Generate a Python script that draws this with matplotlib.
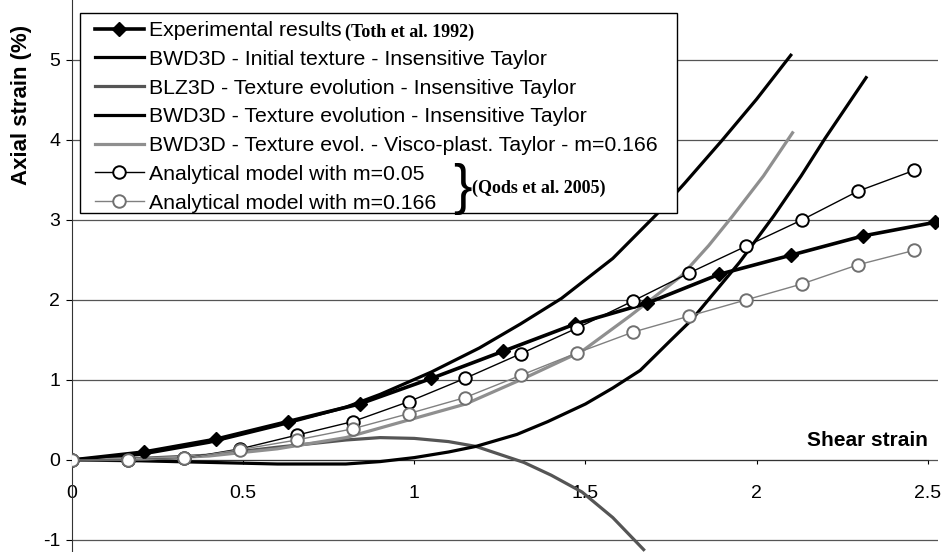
import numpy as np
import matplotlib
matplotlib.use("Agg")
import matplotlib.pyplot as plt
from matplotlib.patches import Rectangle

plt.rcParams['font.family'] = ['Liberation Sans', 'DejaVu Sans']
plt.rcParams['axes.unicode_minus'] = False

# Experimental results (Toth et al. 1992)
exp_x = [0, 0.21, 0.42, 0.63, 0.84, 1.05, 1.26, 1.47, 1.68, 1.89, 2.10, 2.31, 2.52]
exp_y = [0, 0.10, 0.26, 0.48, 0.70, 1.02, 1.36, 1.70, 1.96, 2.32, 2.56, 2.80, 2.97]

# BWD3D - Initial texture - Insensitive Taylor
init_x = [0, 0.2, 0.4, 0.6, 0.8, 0.9, 1.05, 1.19, 1.31, 1.43, 1.58, 1.71, 1.79, 1.9, 2.0, 2.1]
init_y = [0, 0.07, 0.22, 0.43, 0.66, 0.82, 1.10, 1.40, 1.70, 2.02, 2.52, 3.08, 3.46, 4.0, 4.51, 5.06]

# BLZ3D - Texture evolution - Insensitive Taylor
blz_x = [0, 0.2, 0.4, 0.6, 0.8, 0.9, 1.0, 1.1, 1.18, 1.32, 1.4, 1.49, 1.58, 1.67]
blz_y = [0, 0.02, 0.06, 0.16, 0.25, 0.28, 0.27, 0.23, 0.17, -0.03, -0.19, -0.40, -0.72, -1.12]

# BWD3D - Texture evolution - Insensitive Taylor
evo_x = [0, 0.2, 0.4, 0.6, 0.8, 0.9, 1.0, 1.1, 1.18, 1.3, 1.39, 1.5, 1.58, 1.66, 1.75, 1.81,
         1.95, 2.05, 2.13, 2.2, 2.32]
evo_y = [0, -0.01, -0.03, -0.05, -0.05, -0.02, 0.03, 0.10, 0.17, 0.32, 0.48, 0.70, 0.90, 1.12,
         1.50, 1.75, 2.47, 3.05, 3.55, 4.02, 4.78]

# BWD3D - Texture evol. - Visco-plast. Taylor - m=0.166
vis_x = [0, 0.2, 0.4, 0.6, 0.8, 0.9, 1.0, 1.15, 1.32, 1.49, 1.63, 1.78, 1.86, 1.93, 2.02, 2.105]
vis_y = [0, 0.01, 0.05, 0.14, 0.28, 0.40, 0.52, 0.70, 1.02, 1.36, 1.80, 2.30, 2.68, 3.05, 3.55, 4.09]

# Analytical model (Qods et al. 2005)
an_x = [0, 0.164, 0.328, 0.492, 0.656, 0.82, 0.984, 1.148, 1.312, 1.476, 1.64, 1.804,
        1.968, 2.132, 2.296, 2.46]
an005_y = [0, 0.0, 0.02, 0.14, 0.31, 0.48, 0.73, 1.02, 1.33, 1.65, 1.99, 2.34, 2.67, 3.00, 3.36, 3.62]
an0166_y = [0, 0.0, 0.02, 0.13, 0.25, 0.39, 0.58, 0.78, 1.06, 1.34, 1.60, 1.80, 2.00, 2.20, 2.44, 2.62]

labels = ["Experimental results",
          "BWD3D - Initial texture - Insensitive Taylor",
          "BLZ3D - Texture evolution - Insensitive Taylor",
          "BWD3D - Texture evolution - Insensitive Taylor",
          "BWD3D - Texture evol. - Visco-plast. Taylor - m=0.166",
          "Analytical model with m=0.05",
          "Analytical model with m=0.166"]

W, H = 945, 552
fig = plt.figure(figsize=(W / 100, H / 100), dpi=100)
x0_pix, xr_pix = 72, 938
ax = fig.add_axes([x0_pix / W, 0, (xr_pix - x0_pix) / W, 1])
ax.set_xlim(0, 2.53)
ax.set_ylim(-1.15, 5.75)

for yv in range(-1, 6):
    ax.axhline(yv, color='#555555', lw=0.9, zorder=0)

l_init, = ax.plot(init_x, init_y, color='black', lw=2.3, zorder=3)
l_blz, = ax.plot(blz_x, blz_y, color='#555555', lw=2.3, zorder=3)
l_evo, = ax.plot(evo_x, evo_y, color='black', lw=2.3, zorder=3)
l_vis, = ax.plot(vis_x, vis_y, color='#8f8f8f', lw=2.3, zorder=3)
l_exp, = ax.plot(exp_x, exp_y, color='black', lw=2.6, marker='D', ms=7,
                 mfc='black', mec='black', zorder=4)
l_a1, = ax.plot(an_x, an005_y, color='black', lw=1.0, marker='o', ms=9,
                mfc='white', mec='black', mew=1.4, zorder=5)
l_a2, = ax.plot(an_x, an0166_y, color='#808080', lw=1.0, marker='o', ms=9,
                mfc='white', mec='#707070', mew=1.4, zorder=5)

ax.spines['top'].set_visible(False)
ax.spines['right'].set_visible(False)
ax.spines['bottom'].set_position(('data', 0))
ax.spines['bottom'].set_bounds(0, 2.5)
ax.spines['left'].set_color('#333333')
ax.spines['bottom'].set_color('#333333')

ax.set_xticks([0, 0.5, 1, 1.5, 2, 2.5])
ax.set_xticklabels(['0', '0.5', '1', '1.5', '2', '2.5'])
ax.set_yticks(range(-1, 6))
ax.tick_params(axis='x', direction='out', length=3, pad=15, labelsize=14)
ax.tick_params(axis='y', direction='out', length=4.5, pad=4, labelsize=14)

ax.text(2.5, 0.25, "Shear strain", ha='right', va='center', fontsize=15, fontweight='bold')
fig.text(22 / W, 1 - 105 / H, "Axial strain (%)", rotation=90, ha='center', va='center',
         fontsize=16, fontweight='bold')

# legend box drawn separately so that its size follows the original
box = Rectangle((80 / W, 1 - 213 / H), 597 / W, 200 / H, transform=fig.transFigure,
                facecolor='white', edgecolor='black', lw=1.0, zorder=9, clip_on=False)
ax.add_patch(box)

handles = [l_exp, l_init, l_blz, l_evo, l_vis, l_a1, l_a2]
leg = ax.legend(handles, labels, loc='upper left', bbox_to_anchor=(95 / W, 1 - 21 / H),
                bbox_transform=fig.transFigure, borderaxespad=0, fontsize=15.3,
                handlelength=2.3, handletextpad=0.25, labelspacing=0.46, borderpad=0,
                frameon=False)
leg.set_zorder(10)

# citation notes placed next to the legend texts
fig.canvas.draw()
renderer = fig.canvas.get_renderer()
texts = leg.get_texts()
bb0 = texts[0].get_window_extent(renderer)
fig.text((bb0.x1 + 3) / W, (bb0.y0 + bb0.y1) / 2 / H - 0.004, "(Toth et al. 1992)",
         family=['Liberation Serif'], fontweight='bold', fontsize=13, va='center', zorder=11)
bb5 = texts[5].get_window_extent(renderer)
bb6 = texts[6].get_window_extent(renderer)
xb = max(bb5.x1, bb6.x1) + 17
yb = ((bb5.y0 + bb5.y1) / 2 + (bb6.y0 + bb6.y1) / 2) / 2
fig.text(xb / W, yb / H, "}", family=['Liberation Sans'], fontsize=40,
         va='center', ha='left', zorder=11)
fig.text((xb + 19) / W, yb / H, "(Qods et al. 2005)", family=['Liberation Serif'],
         fontweight='bold', fontsize=13, va='center', zorder=11)

fig.savefig("out.png", dpi=100)
